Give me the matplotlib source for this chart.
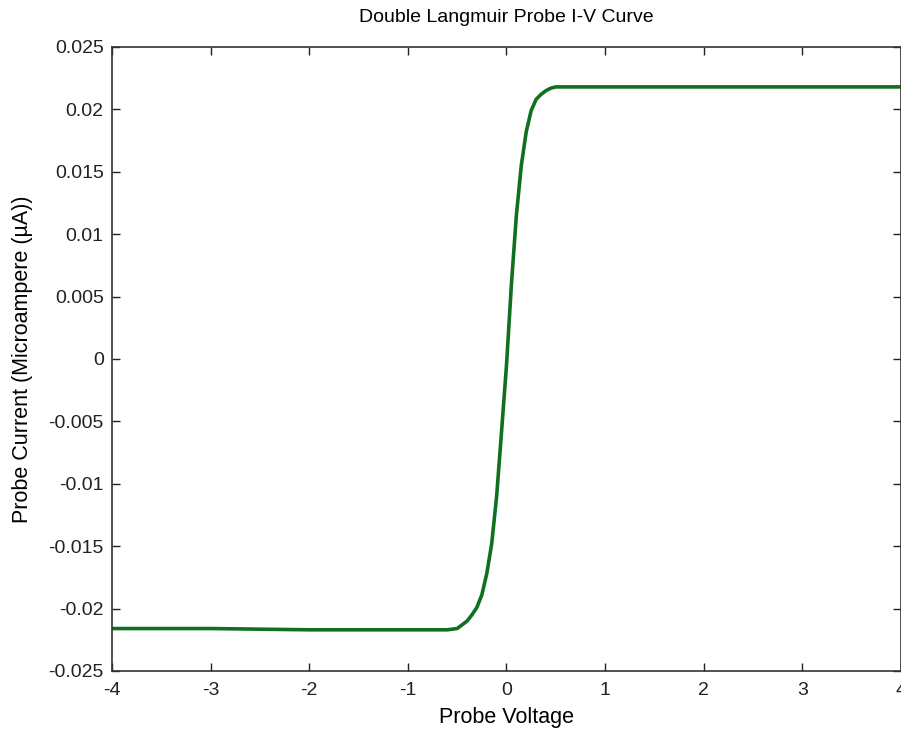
'''
Double Langmuir probe I-V curve
'''

import matplotlib
matplotlib.use('Agg')
import matplotlib.pyplot as plt

# values
probe_voltage = [-4.0, -3.0, -2.0, -1.0, -0.6, -0.5, -0.45, -0.4, -0.35,
                 -0.3, -0.25, -0.2, -0.15, -0.1, -0.05, 0.0, 0.05, 0.1,
                 0.15, 0.2, 0.25, 0.3, 0.35, 0.4, 0.45, 0.5, 1.0, 2.0,
                 3.0, 4.0]
probe_current = [-0.0216, -0.0216, -0.0217, -0.0217, -0.0217, -0.0216,
                 -0.0213, -0.0210, -0.0205, -0.0199, -0.0189, -0.0172,
                 -0.0148, -0.0110, -0.0058, -0.0005, 0.0060, 0.0115,
                 0.0155, 0.0182, 0.0199, 0.0208, 0.0212, 0.0215, 0.0217,
                 0.0218, 0.0218, 0.0218, 0.0218, 0.0218]

x_ticks = [-4, -3, -2, -1, 0, 1, 2, 3, 4]
y_ticks = [-0.025, -0.02, -0.015, -0.01, -0.005, 0, 0.005, 0.01, 0.015,
           0.02, 0.025]
y_tick_labels = ['-0.025', '-0.02', '-0.015', '-0.01', '-0.005', '0',
                 '0.005', '0.01', '0.015', '0.02', '0.025']

plt.rcParams['font.family'] = ['Liberation Sans', 'DejaVu Sans']

fig = plt.figure(figsize=(9.01, 7.35), dpi=100)
ax = fig.add_axes([0.1243, 0.0871, 0.8757, 0.8490])

ax.plot(probe_voltage, probe_current, color='#117020', linewidth=2.6)

ax.set_xlim(-4, 4)
ax.set_ylim(-0.025, 0.025)
ax.set_xticks(x_ticks)
ax.set_xticklabels([str(t) for t in x_ticks])
ax.set_yticks(y_ticks)
ax.set_yticklabels(y_tick_labels)
ax.tick_params(direction='in', length=6, width=1, top=True, right=True,
               labelsize=14, colors='#222222')
ax.tick_params(axis='x', pad=8)
ax.tick_params(axis='y', pad=6)
for spine in ax.spines.values():
    spine.set_color('#333333')
    spine.set_linewidth(1.2)

ax.set_xlabel('Probe Voltage', fontsize=15.5, labelpad=6)
ax.set_ylabel('Probe Current (Microampere (\u00b5A))', fontsize=15.5)
ax.yaxis.set_label_coords(-0.1, 0.5)
ax.set_title('Double Langmuir Probe I-V Curve', fontsize=14, pad=18)

fig.savefig('out.png', dpi=100)
